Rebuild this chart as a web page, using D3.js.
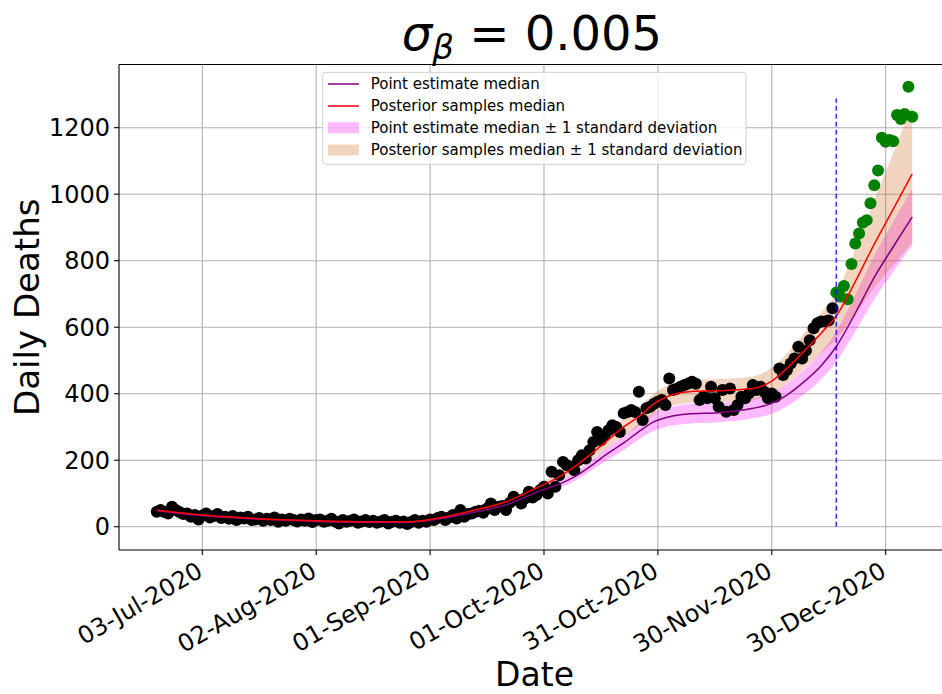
<!DOCTYPE html>
<html>
<head>
<meta charset="utf-8">
<script src="https://cdn.jsdelivr.net/npm/d3@7"></script>
<style>
  html, body { margin: 0; padding: 0; background: #ffffff; }
  svg { display: block; font-family: "DejaVu Sans", sans-serif; }
</style>
</head>
<body>
<svg id="chart" width="942" height="694"></svg>
<script>
// ---------------- DATA ----------------
const observedStart = "2020-06-21";
const observedDeaths = [
  45, 50, 44, 40, 60, 50, 44, 38, 40, 30, 35, 22,
  34, 40, 28, 32, 38, 26, 30, 24, 32, 20, 28, 25, 30, 20, 22, 26, 18, 24,
  20, 28, 15, 22, 18, 24, 20, 16, 22, 18, 25, 14, 20, 22, 15, 18, 24, 16,
  10, 20, 15, 18, 22, 12, 16, 20, 14, 18, 12, 16, 20, 10, 15, 18, 12, 16,
  8, 14, 20, 12, 18, 15, 22, 20, 26, 30, 20, 28, 35, 25, 50, 30, 38, 40,
  45, 48, 42, 55, 70, 50, 60, 62, 50, 72, 90, 80, 70, 85, 105, 88, 95, 110,
  120, 100, 165, 120, 155, 195, 185, 180, 170, 200, 215, 205, 230, 255, 285, 260,
  275, 290, 305, 300, 285, 341, 345, 351, 345, 406, 321, 356, 361, 370, 376, 381,
  366, 446, 411, 415, 421, 426, 431, 436, 430, 381, 391, 386, 421, 386, 361, 411,
  346, 416, 351, 366, 391, 386, 401, 426, 411, 421, 406, 386, 401, 391, 476, 456,
  471, 491, 506, 541, 506, 530, 561, 597, 612, 617, 617, 620, 657
];
const futureStart = "2020-12-17";
const futureDeaths = [
  704, 692, 724, 684, 790, 852, 882, 915, 922, 973, 1027, 1071,
  1170, 1158, 1163, 1159, 1238, 1226, 1241, 1323, 1233
];

const curveDates = [
  "2020-06-21","2020-07-03","2020-07-17","2020-08-02","2020-08-16","2020-08-26",
  "2020-09-01","2020-09-05","2020-09-12","2020-09-21","2020-09-30","2020-10-05",
  "2020-10-09","2020-10-13","2020-10-18","2020-10-22","2020-10-26","2020-10-30",
  "2020-11-03","2020-11-08","2020-11-16","2020-11-25","2020-11-30","2020-12-04",
  "2020-12-08","2020-12-13","2020-12-17","2020-12-22","2020-12-27","2021-01-01",
  "2021-01-06"
];
const pointMedian = [
  48, 33, 23, 16, 13, 13, 19, 26, 42, 66, 108, 128, 150, 180, 222, 252,
  286, 316, 331, 339, 343, 356, 371, 396, 431, 484, 542, 642, 750, 842, 932
];
const pointLower = [
  44, 30, 21, 14, 12, 12, 17, 24, 38, 60, 99, 117, 137, 165, 203, 231,
  262, 289, 303, 310, 314, 326, 339, 362, 394, 443, 496, 587, 684, 767, 847
];
const pointUpper = [
  52, 36, 25, 18, 14, 14, 21, 28, 46, 72, 117, 139, 163, 195, 241, 273,
  310, 343, 359, 368, 372, 386, 403, 430, 468, 525, 588, 697, 816, 917, 1017
];
const postMedian = [
  50, 35, 25, 18, 15, 15, 22, 30, 48, 75, 122, 150, 180, 215, 262, 300,
  331, 370, 394, 406, 409, 416, 438, 476, 522, 582, 634, 737, 850, 955, 1061
];
const postLower = [
  46, 32, 23, 16, 14, 14, 20, 27, 44, 69, 112, 137, 165, 197, 240, 274,
  303, 339, 361, 371, 374, 380, 398, 431, 470, 521, 565, 640, 718, 786, 855
];
const postUpper = [
  54, 38, 27, 20, 16, 16, 24, 33, 52, 81, 132, 163, 195, 233, 284, 326,
  359, 401, 427, 441, 444, 452, 478, 521, 574, 643, 703, 834, 982, 1124, 1267
];

const cutoffDate = "2020-12-17";
const cutoffRange = [0, 1288];

const yTicks = [0, 200, 400, 600, 800, 1000, 1200];
const xTickDates = ["2020-07-03","2020-08-02","2020-09-01","2020-10-01","2020-10-31","2020-11-30","2020-12-30"];

const legendLabels = [
  "Point estimate median",
  "Posterior samples median",
  "Point estimate median \u00b1 1 standard deviation",
  "Posterior samples median \u00b1 1 standard deviation"
];

// ---------------- LAYOUT ----------------
(function () {
const W = 942, H = 694;
const pL = 119, pR = 950, pT = 64.5, pB = 550;
const parse = d3.timeParse("%Y-%m-%d");
const fmt = d3.timeFormat("%d-%b-%Y");

const obsStart = parse(observedStart);
const futStart = parse(futureStart);
const obsPts = observedDeaths.map((v, i) => ({ date: d3.timeDay.offset(obsStart, i), v }));
const futPts = futureDeaths.map((v, i) => ({ date: d3.timeDay.offset(futStart, i), v }));
const cDates = curveDates.map(parse);

const allDates = obsPts.concat(futPts).map(d => d.date);
const xExt = d3.extent(allDates);
const span = xExt[1] - xExt[0];
const x = d3.scaleTime()
  .domain([new Date(+xExt[0] - 0.05 * span), new Date(+xExt[1] + 0.05 * span)])
  .range([pL, pR]);
const y = d3.scaleLinear().domain([-70, 1390]).range([pB, pT]);

const svg = d3.select("#chart");
svg.append("rect").attr("width", W).attr("height", H).attr("fill", "#fff");

svg.append("defs").append("clipPath").attr("id", "plotclip")
  .append("rect").attr("x", pL).attr("y", pT).attr("width", pR - pL).attr("height", pB - pT);

// grid
const grid = svg.append("g");
xTickDates.map(parse).forEach(d => {
  grid.append("line").attr("x1", x(d)).attr("x2", x(d)).attr("y1", pT).attr("y2", pB)
    .attr("stroke", "#b0b0b0").attr("stroke-width", 1.1);
});
yTicks.forEach(v => {
  grid.append("line").attr("x1", pL).attr("x2", pR).attr("y1", y(v)).attr("y2", y(v))
    .attr("stroke", "#b0b0b0").attr("stroke-width", 1.1);
});

const plot = svg.append("g").attr("clip-path", "url(#plotclip)");

const area = (lo, hi) => d3.area()
  .x((d, i) => x(cDates[i]))
  .y0((d, i) => y(lo[i]))
  .y1((d, i) => y(hi[i]))
  .curve(d3.curveMonotoneX);

plot.append("path").datum(pointLower).attr("d", area(pointLower, pointUpper))
  .attr("fill", "#ff00ff").attr("fill-opacity", 0.27);
plot.append("path").datum(postLower).attr("d", area(postLower, postUpper))
  .attr("fill", "#d2691e").attr("fill-opacity", 0.28);

// scatter
plot.append("g").selectAll("circle").data(obsPts).join("circle")
  .attr("cx", d => x(d.date)).attr("cy", d => y(d.v)).attr("r", 6).attr("fill", "#000");
plot.append("g").selectAll("circle").data(futPts).join("circle")
  .attr("cx", d => x(d.date)).attr("cy", d => y(d.v)).attr("r", 6).attr("fill", "#008000");

const line = d3.line().x((d, i) => x(cDates[i])).y(d => y(d)).curve(d3.curveMonotoneX);
plot.append("path").datum(pointMedian).attr("d", line)
  .attr("fill", "none").attr("stroke", "#800080").attr("stroke-width", 1.5);
plot.append("path").datum(postMedian).attr("d", line)
  .attr("fill", "none").attr("stroke", "#ff0000").attr("stroke-width", 1.5);

// cutoff dashed line
const cd = parse(cutoffDate);
plot.append("line").attr("x1", x(cd)).attr("x2", x(cd))
  .attr("y1", y(cutoffRange[0])).attr("y2", y(cutoffRange[1]))
  .attr("stroke", "#0000ff").attr("stroke-opacity", 0.8).attr("stroke-width", 1.6)
  .attr("stroke-dasharray", "5,3");

// spines
svg.append("line").attr("x1", pL).attr("x2", pL).attr("y1", pT).attr("y2", pB).attr("stroke", "#000").attr("stroke-width", 1.1);
svg.append("line").attr("x1", pL).attr("x2", W).attr("y1", pB).attr("y2", pB).attr("stroke", "#000").attr("stroke-width", 1.1);
svg.append("line").attr("x1", pL).attr("x2", W).attr("y1", pT).attr("y2", pT).attr("stroke", "#000").attr("stroke-width", 1.1);

// y axis
const yAxis = svg.append("g");
yTicks.forEach(v => {
  yAxis.append("line").attr("x1", pL - 5).attr("x2", pL).attr("y1", y(v)).attr("y2", y(v)).attr("stroke", "#000").attr("stroke-width", 1.1);
  yAxis.append("text").attr("x", pL - 9).attr("y", y(v)).attr("dy", "0.36em")
    .attr("text-anchor", "end").attr("font-size", 24).attr("fill", "#000").text(v);
});

// x axis
const xAxis = svg.append("g");
xTickDates.map(parse).forEach(d => {
  const tx = x(d);
  xAxis.append("line").attr("x1", tx).attr("x2", tx).attr("y1", pB).attr("y2", pB + 5).attr("stroke", "#000").attr("stroke-width", 1.1);
  xAxis.append("text").attr("transform", `translate(${tx - 7},${pB + 10}) rotate(-30)`)
    .attr("dy", "0.75em").attr("text-anchor", "end").attr("font-size", 24).attr("fill", "#000")
    .text(fmt(d));
});

// labels
svg.append("text").attr("x", (pL + pR) / 2).attr("y", 686).attr("text-anchor", "middle")
  .attr("font-size", 33).attr("fill", "#000").text("Date");
svg.append("text").attr("transform", `translate(39,${(pT + pB) / 2}) rotate(-90)`)
  .attr("text-anchor", "middle").attr("font-size", 34).attr("fill", "#000").text("Daily Deaths");

// title
const title = svg.append("text").attr("x", 532).attr("y", 50).attr("text-anchor", "middle")
  .attr("font-size", 48).attr("fill", "#000");
title.append("tspan").attr("font-style", "italic").text("\u03c3");
title.append("tspan").attr("font-style", "italic").attr("font-size", 34).attr("dy", 9).text("\u03b2");
title.append("tspan").attr("dy", -9).text(" = 0.005");

// legend
const lg = svg.append("g");
lg.append("rect").attr("x", 322.7).attr("y", 72.3).attr("width", 423.3).attr("height", 92).attr("rx", 3)
  .attr("fill", "#fff").attr("fill-opacity", 0.8).attr("stroke", "#d0d0d0").attr("stroke-width", 1);
const rowY = [84, 106, 127.7, 150];
lg.append("line").attr("x1", 328).attr("x2", 359).attr("y1", rowY[0]).attr("y2", rowY[0]).attr("stroke", "#800080").attr("stroke-width", 1.5);
lg.append("line").attr("x1", 328).attr("x2", 359).attr("y1", rowY[1]).attr("y2", rowY[1]).attr("stroke", "#ff0000").attr("stroke-width", 1.5);
lg.append("rect").attr("x", 328).attr("y", rowY[2] - 5.5).attr("width", 31).attr("height", 11).attr("fill", "#ff00ff").attr("fill-opacity", 0.27);
lg.append("rect").attr("x", 328).attr("y", rowY[3] - 5.5).attr("width", 31).attr("height", 11).attr("fill", "#d2691e").attr("fill-opacity", 0.28);
legendLabels.forEach((t, i) => {
  lg.append("text").attr("x", 370.7).attr("y", rowY[i]).attr("dy", "0.36em").attr("font-size", 15)
    .attr("fill", "#000").text(t);
});
})();
</script>
</body>
</html>
